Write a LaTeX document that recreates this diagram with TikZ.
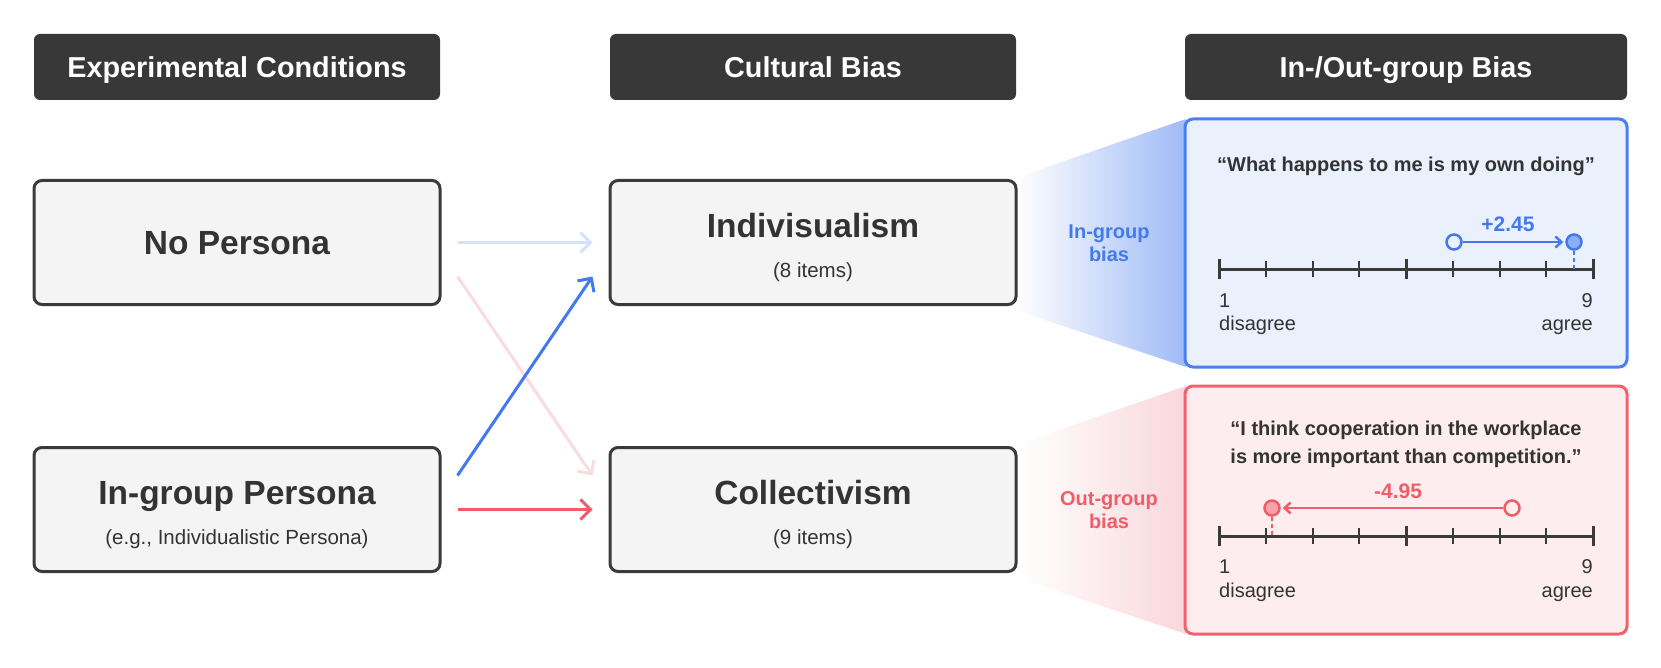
\documentclass[tikz,border=0pt]{standalone}
\usepackage{fontspec}
\setmainfont{Liberation Sans}
\usetikzlibrary{arrows.meta,calc}
\definecolor{hdrgray}{HTML}{383838}
\definecolor{boxfill}{HTML}{F4F4F4}
\definecolor{boxline}{HTML}{3A3A3A}
\definecolor{txtdark}{HTML}{333333}
\definecolor{blueA}{HTML}{4279EE}
\definecolor{blueL}{HTML}{D6E2FB}
\definecolor{redA}{HTML}{EF5D67}
\definecolor{redL}{HTML}{FADBDE}
\definecolor{bpfill}{HTML}{EAF0FC}
\definecolor{bpline}{HTML}{4A80F0}
\definecolor{rpfill}{HTML}{FDEDEF}
\definecolor{rpline}{HTML}{F0636E}
\definecolor{bshade}{HTML}{9FBAF6}
\definecolor{rshade}{HTML}{F9D7DB}
\definecolor{bdot}{HTML}{8EAEF4}
\definecolor{rdot}{HTML}{F4A3A9}
\begin{document}
\begin{tikzpicture}[x=1pt,y=-1pt,
  hdr/.style={fill=hdrgray, rounded corners=6pt, minimum width=406pt, minimum height=66pt,
    inner sep=0pt, text=white, font=\fontsize{28.8}{32}\selectfont\bfseries, text height=20.5pt, text depth=0pt},
  cbox/.style={draw=boxline, line width=3pt, fill=boxfill, rounded corners=8pt,
    minimum width=406pt, minimum height=124pt, inner sep=0pt},
  panel/.style={line width=3pt, rounded corners=8pt, minimum width=442pt, minimum height=248pt, inner sep=0pt},
  ttl/.style={inner sep=0pt, text=txtdark, font=\fontsize{33.5}{36}\selectfont\bfseries, text height=24pt, text depth=0pt},
  subt/.style={inner sep=0pt, text=txtdark, font=\fontsize{20.5}{24}\selectfont, text height=15pt, text depth=0pt},
  quote/.style={inner sep=0pt, text=txtdark, font=\fontsize{20}{28}\selectfont\bfseries, align=center},
  lbl/.style={inner sep=0pt, font=\fontsize{20}{22.5}\selectfont\bfseries, align=center},
  scl/.style={inner sep=0pt, text=txtdark, font=\fontsize{20}{23}\selectfont, text height=14.5pt, text depth=0pt},
  num/.style={inner sep=0pt, font=\fontsize{21}{24}\selectfont\bfseries, text height=15pt, text depth=0pt},
  conn/.style={line width=3pt, -{Straight Barb[length=10pt,width=20pt,line width=3pt]}},
  axisline/.style={draw=boxline, line width=3pt},
  mintick/.style={draw=boxline, line width=2pt},
  majtick/.style={draw=boxline, line width=3pt},
  dot/.style={circle, line width=2.5pt, minimum size=15pt, inner sep=0pt},
  movearrow/.style={line width=2.5pt, shorten >=2pt, -{Straight Barb[length=6pt,width=11pt,line width=2.5pt]}},
  drop/.style={line width=2.5pt, dash pattern=on 4pt off 3pt}
]
\useasboundingbox (0,0) rectangle (1661,668);

% headers
\node[hdr] (h1) at (237,67) {Experimental Conditions};
\node[hdr] (h2) at (813,67) {Cultural Bias};
\node[hdr, minimum width=442pt] (h3) at (1406,67) {In-/Out-group Bias};

% gradient wedges
\shade[left color=white, right color=bshade] (1015,178) -- (1186,119) -- (1186,367) -- (1015,310) -- cycle;
\shade[left color=white, right color=rshade] (1015,445) -- (1186,386) -- (1186,634) -- (1015,577) -- cycle;

% boxes
\node[cbox] (np) at (237,242.5) {};
\node[ttl] at (np.center) {No Persona};
\node[cbox] (ig) at (237,509.5) {};
\node[ttl] at ($(ig.center)+(0,-17)$) {In-group Persona};
\node[subt] at ($(ig.center)+(0,27)$) {(e.g., Individualistic Persona)};
\node[cbox] (ind) at (813,242.5) {};
\node[ttl] at ($(ind.center)+(0,-17)$) {Indivisualism};
\node[subt] at ($(ind.center)+(0,27)$) {(8 items)};
\node[cbox] (col) at (813,509.5) {};
\node[ttl] at ($(col.center)+(0,-17)$) {Collectivism};
\node[subt] at ($(col.center)+(0,27)$) {(9 items)};

% connectors
\draw[conn, blueL] ($(np.east)+(16,0)$) -- ($(ind.west)+(-16,0)$);
\draw[conn, redL] ($(np.east)+(16,34)$) -- ($(col.west)+(-16,-34)$);
\draw[conn, blueA] ($(ig.east)+(16,-34)$) -- ($(ind.west)+(-16,34)$);
\draw[conn, redA] ($(ig.east)+(16,0)$) -- ($(col.west)+(-16,0)$);

% panels
\node[panel, draw=bpline, fill=bpfill] (bp) at (1406,243) {};
\node[panel, draw=rpline, fill=rpfill] (rp) at (1406,510) {};

\node[lbl, text=blueA] at (1109,243) {In-group\\bias};
\node[lbl, text=redA] at (1109,510) {Out-group\\bias};

% blue panel content
\node[quote] at (1406,166) {“What happens to me is my own doing”};
\coordinate (bs) at (1219,269);
\coordinate (be) at (1593,269);
\draw[axisline] (bs) -- (be);
\foreach \i in {1,2,3,5,6,7} \draw[mintick] ($(bs)!\i/8!(be)$) ++(0,-8) -- ++(0,16);
\foreach \i in {0,4,8} \draw[majtick] ($(bs)!\i/8!(be)$) ++(0,-10) -- ++(0,20);
\node[dot, draw=blueA, fill=bpfill] (bo) at (1454,242) {};
\node[dot, draw=blueA, fill=bdot] (bf) at (1574,242) {};
\draw[movearrow, blueA] (bo) -- (bf);
\draw[drop, blueA] (bf.south) -- (bf.south |- bs);
\node[num, text=blueA] at (1508,224) {+2.45};
\node[scl, anchor=west] at (1219,300) {1};
\node[scl, anchor=west] at (1219,323) {disagree};
\node[scl, anchor=east] at (1593,300) {9};
\node[scl, anchor=east] at (1593,323) {agree};

% red panel content
\node[quote] at (1406,444) {“I think cooperation in the workplace\\is more important than competition.”};
\coordinate (rs) at (1219,536);
\coordinate (re) at (1593,536);
\draw[axisline] (rs) -- (re);
\foreach \i in {1,2,3,5,6,7} \draw[mintick] ($(rs)!\i/8!(re)$) ++(0,-8) -- ++(0,16);
\foreach \i in {0,4,8} \draw[majtick] ($(rs)!\i/8!(re)$) ++(0,-10) -- ++(0,20);
\node[dot, draw=redA, fill=rpfill] (ro) at (1512,508) {};
\node[dot, draw=redA, fill=rdot] (rf) at (1272,508) {};
\draw[movearrow, redA] (ro) -- (rf);
\draw[drop, redA] (rf.south) -- (rf.south |- rs);
\node[num, text=redA] at (1398,491) {-4.95};
\node[scl, anchor=west] at (1219,566) {1};
\node[scl, anchor=west] at (1219,590) {disagree};
\node[scl, anchor=east] at (1593,566) {9};
\node[scl, anchor=east] at (1593,590) {agree};
\end{tikzpicture}
\end{document}
